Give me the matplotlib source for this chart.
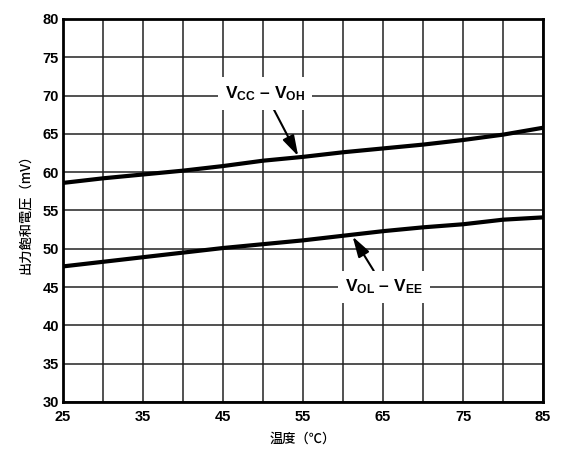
import matplotlib
matplotlib.use("Agg")
import matplotlib.pyplot as plt
import numpy as np

plt.rcParams['mathtext.fontset'] = 'custom'
plt.rcParams['mathtext.rm'] = 'Liberation Sans:bold'
plt.rcParams['mathtext.it'] = 'Liberation Sans:bold'
plt.rcParams['mathtext.bf'] = 'Liberation Sans:bold'

# Data
temp = [25, 30, 35, 40, 45, 50, 55, 60, 65, 70, 75, 80, 85]
vcc_voh = [58.6, 59.2, 59.7, 60.2, 60.8, 61.5, 62.0, 62.6, 63.1, 63.6, 64.2, 64.9, 65.8]
vol_vee = [47.7, 48.3, 48.9, 49.5, 50.1, 50.6, 51.1, 51.7, 52.3, 52.8, 53.2, 53.8, 54.1]

x_ticks = [25, 35, 45, 55, 65, 75, 85]
y_ticks = [30, 35, 40, 45, 50, 55, 60, 65, 70, 75, 80]
x_grid = [25, 30, 35, 40, 45, 50, 55, 60, 65, 70, 75, 80, 85]

xlabel = "温度（℃）"
ylabel = "出力飽和電圧（mV）"

fig = plt.figure(figsize=(5.62, 4.5), dpi=100)
ax = fig.add_axes([0.1121, 0.1067, 0.8541, 0.8511])

for xv in x_grid:
    ax.axvline(xv, color='#222222', lw=1.1, zorder=1)
for yv in y_ticks:
    ax.axhline(yv, color='#222222', lw=1.1, zorder=1)

ax.plot(temp, vcc_voh, color='black', lw=3, zorder=3, solid_capstyle='butt')
ax.plot(temp, vol_vee, color='black', lw=3, zorder=3, solid_capstyle='butt')

ax.set_xlim(25, 85)
ax.set_ylim(30, 80)
ax.set_xticks(x_ticks)
ax.set_yticks(y_ticks)
ax.tick_params(axis='y', length=0, pad=3)
ax.tick_params(axis='x', length=0, pad=6)
for lab in ax.get_xticklabels() + ax.get_yticklabels():
    lab.set_fontfamily('Liberation Sans')
    lab.set_fontweight('bold')
    lab.set_fontsize(10.5)
for s in ax.spines.values():
    s.set_linewidth(2)

ax.set_xlabel(xlabel, fontfamily=['Noto Sans CJK JP', 'DejaVu Sans'], fontsize=9.5,
              fontweight='medium', labelpad=5)
ax.set_ylabel(ylabel, fontfamily=['Noto Sans CJK JP', 'DejaVu Sans'], fontsize=9.5,
              fontweight='medium', labelpad=7)

bbox = dict(boxstyle='square,pad=0.4', fc='white', ec='none')
arrow = dict(arrowstyle='-|>,head_length=1.0,head_width=0.3', color='black', lw=1.5,
             shrinkA=0, shrinkB=0)
ax.annotate(r"$\mathrm{V_{CC}}$ – $\mathrm{V_{OH}}$", xy=(54.4, 62.1), xytext=(50.3, 70.3),
            ha='center', va='center', fontsize=12.5, fontfamily='Liberation Sans', fontweight='bold',
            bbox=bbox, zorder=5, arrowprops=arrow)
ax.annotate(r"$\mathrm{V_{OL}}$ – $\mathrm{V_{EE}}$", xy=(61.2, 51.6), xytext=(65.1, 45.0),
            ha='center', va='center', fontsize=12.5, fontfamily='Liberation Sans', fontweight='bold',
            bbox=bbox, zorder=5, arrowprops=arrow)

fig.savefig("out.png", dpi=100)
